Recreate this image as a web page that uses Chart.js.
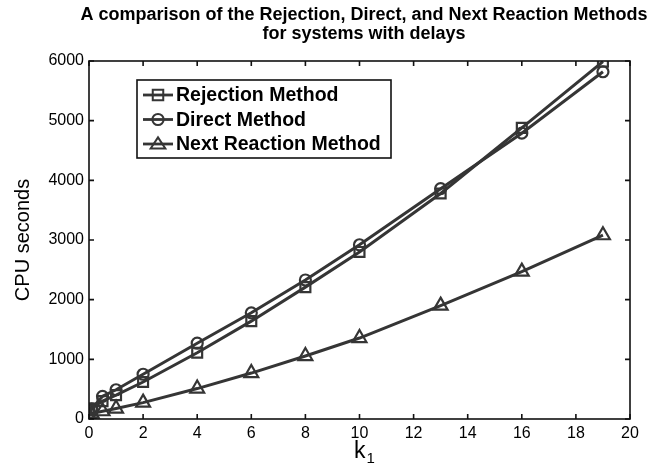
<!DOCTYPE html>
<html>
<head>
<meta charset="utf-8">
<script src="https://cdn.jsdelivr.net/npm/chart.js@4.4.1/dist/chart.umd.min.js"></script>
<style>
  html, body { margin: 0; padding: 0; background: #ffffff; }
  #wrap { width: 653px; height: 471px; position: relative; }
</style>
</head>
<body>
<div id="wrap"><canvas id="c" width="653" height="471"></canvas></div>
<script>
// ---- data ----
const kValues = [0, 0.1, 0.5, 1, 2, 4, 6, 8, 10, 13, 16, 19];
const rejectionMethod = [150, 175, 300, 400, 620, 1110, 1640, 2210, 2800, 3780, 4880, 5990];
const directMethod = [100, 170, 380, 490, 750, 1270, 1780, 2330, 2920, 3860, 4790, 5820];
const nextReactionMethod = [60, 90, 130, 175, 275, 510, 770, 1055, 1357, 1900, 2470, 3080];
const seriesLabels = ['Rejection Method', 'Direct Method', 'Next Reaction Method'];
const titleLines = ['A comparison of the Rejection, Direct, and Next Reaction Methods', 'for systems with delays'];
const xTitleMain = 'k';
const xTitleSub = '1';
const yTitle = 'CPU seconds';

const LINE = '#353535';
const FONT = '"Liberation Sans", Arial, Helvetica, sans-serif';

function pts(ys) { return kValues.map((x, i) => ({ x: x, y: ys[i] })); }

function drawMarker(ctx, style, x, y, r) {
  ctx.beginPath();
  if (style === 'rect') {
    ctx.rect(x - r * 0.75, y - r * 0.75, r * 1.5, r * 1.5);
  } else if (style === 'circle') {
    ctx.arc(x, y, r * 0.8, 0, Math.PI * 2);
  } else if (style === 'triangle') {
    ctx.moveTo(x, y - r * 0.95);
    ctx.lineTo(x + r * 1.05, y + r * 0.65);
    ctx.lineTo(x - r * 1.05, y + r * 0.65);
    ctx.closePath();
  }
  ctx.stroke();
}

const titleDraw = {
  id: 'titleDraw',
  afterDraw(chart) {
    const ctx = chart.ctx;
    const a = chart.chartArea;
    ctx.save();
    ctx.fillStyle = '#000';
    ctx.font = 'bold 18px ' + FONT;
    ctx.textAlign = 'center';
    ctx.textBaseline = 'middle';
    ctx.fillText(titleLines[0], 364, 15);
    ctx.fillText(titleLines[1], 364, 34);
    // x-axis title k with subscript 1
    const cx = (a.left + a.right) / 2 + 6;
    ctx.textAlign = 'left';
    ctx.textBaseline = 'alphabetic';
    ctx.font = '23px ' + FONT;
    const kw = ctx.measureText(xTitleMain).width;
    ctx.fillText(xTitleMain, cx - kw, 458);
    ctx.font = '15px ' + FONT;
    ctx.fillText(xTitleSub, cx + 1, 463);
    ctx.restore();
  }
};

const boxAndTicks = {
  id: 'boxAndTicks',
  afterDraw(chart) {
    const ctx = chart.ctx;
    const a = chart.chartArea;
    const xs = chart.scales.x, ys = chart.scales.y;
    ctx.save();
    ctx.strokeStyle = '#111';
    ctx.lineWidth = 1.6;
    ctx.strokeRect(a.left, a.top, a.right - a.left, a.bottom - a.top);
    const L = 5;
    ctx.beginPath();
    xs.ticks.forEach(t => {
      const px = xs.getPixelForValue(t.value);
      ctx.moveTo(px, a.bottom); ctx.lineTo(px, a.bottom - L);
      ctx.moveTo(px, a.top); ctx.lineTo(px, a.top + L);
    });
    ys.ticks.forEach(t => {
      const py = ys.getPixelForValue(t.value);
      ctx.moveTo(a.left, py); ctx.lineTo(a.left + L, py);
      ctx.moveTo(a.right, py); ctx.lineTo(a.right - L, py);
    });
    ctx.stroke();

    // legend box inside the plot
    const bx = a.left + 48, by = a.top + 19, bw = 254, bh = 78;
    ctx.fillStyle = '#ffffff';
    ctx.fillRect(bx, by, bw, bh);
    ctx.lineWidth = 1.6;
    ctx.strokeStyle = '#111';
    ctx.strokeRect(bx, by, bw, bh);
    chart.data.datasets.forEach((ds, i) => {
      const cy = by + 15 + i * 24.5;
      ctx.strokeStyle = ds.borderColor;
      ctx.lineWidth = 2.8;
      ctx.beginPath();
      ctx.moveTo(bx + 6, cy); ctx.lineTo(bx + 36, cy);
      ctx.stroke();
      ctx.lineWidth = 2;
      drawMarker(ctx, ds.pointStyle, bx + 21, cy, 7);
      ctx.fillStyle = '#000';
      ctx.font = 'bold 19.5px ' + FONT;
      ctx.textBaseline = 'middle';
      ctx.textAlign = 'left';
      ctx.fillText(ds.label, bx + 39, cy + 1);
    });
    ctx.restore();
  }
};

function makeDs(label, ys, style, r) {
  return {
    label: label,
    data: pts(ys),
    borderColor: LINE,
    backgroundColor: 'rgba(0,0,0,0)',
    borderWidth: 3,
    pointStyle: style,
    pointRadius: r,
    pointBorderWidth: 2.2,
    pointBorderColor: LINE,
    pointBackgroundColor: 'rgba(0,0,0,0)',
    tension: 0,
    fill: false
  };
}

new Chart(document.getElementById('c'), {
  type: 'line',
  data: {
    datasets: [
      makeDs(seriesLabels[0], rejectionMethod, 'rect', 7),
      makeDs(seriesLabels[1], directMethod, 'circle', 5.5),
      makeDs(seriesLabels[2], nextReactionMethod, 'triangle', 8)
    ]
  },
  options: {
    responsive: false,
    animation: false,
    devicePixelRatio: 1,
    layout: { padding: { left: 0, right: 23, top: 61, bottom: 0 } },
    plugins: {
      legend: { display: false },
      tooltip: { enabled: false },
      title: { display: false }
    },
    scales: {
      x: {
        type: 'linear',
        min: 0, max: 20,
        ticks: { stepSize: 2, color: '#000', font: { family: FONT, size: 16 }, padding: 5 },
        grid: { display: false, drawTicks: false },
        border: { display: false },
        title: { display: false },
        afterFit(s) { s.height = 52; }
      },
      y: {
        min: 0, max: 6000,
        ticks: { stepSize: 1000, color: '#000', font: { family: FONT, size: 16 }, padding: 5,
                 callback: (v) => String(v) },
        grid: { display: false, drawTicks: false },
        border: { display: false },
        title: { display: true, text: yTitle, color: '#000', font: { family: FONT, size: 20 }, padding: { top: 11, bottom: 0 } },
        afterFit(s) { s.width = 89; }
      }
    }
  },
  plugins: [boxAndTicks, titleDraw]
});
</script>
</body>
</html>
